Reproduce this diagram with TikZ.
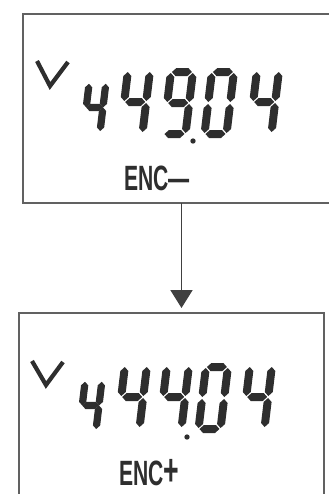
\documentclass[tikz,border=0pt]{standalone}
\usepackage{fontspec}
\newfontfamily\encfont{Liberation Sans}
\usetikzlibrary{arrows.meta}

\tikzset{
  lcd/.style={fill=black!82},
  lcdbox/.style={draw=black!62, line width=1.6pt, inner sep=0pt, outer sep=0pt},
  vmark/.style={draw=black!82, line width=3.6pt, line join=miter},
  enc/.style={inner sep=0pt, anchor=base west, xscale=0.6,
    font=\fontsize{30}{30}\selectfont\encfont\bfseries, text=black!82},
  smalldigit/.style={lcd/.append style={draw=black!82, line width=1pt}},
  flow/.style={draw=black!75, line width=1.6pt,
    -{Triangle[width=0.66cm,length=0.54cm]}, shorten >=0.15cm}
}

% segments of one digit, cell 30 x 70, bottom left at (0,0)
\newcommand{\hseg}[3]{\fill[lcd] (#1,#3) -- ({#1+4},{#3+4}) -- ({#2-4},{#3+4}) -- (#2,#3) -- ({#2-4},{#3-4}) -- ({#1+4},{#3-4}) -- cycle;}
\newcommand{\vseg}[3]{\fill[lcd] (#1,#2) -- ({#1+4},{#2+4}) -- ({#1+4},{#3-4}) -- (#1,#3) -- ({#1-4},{#3-4}) -- ({#1-4},{#2+4}) -- cycle;}
\newcommand{\sega}{\hseg{5}{25}{66}}
\newcommand{\segb}{\vseg{26}{36}{65}}
\newcommand{\segc}{\vseg{26}{5}{34}}
\newcommand{\segd}{\hseg{5}{25}{4}}
\newcommand{\sege}{\vseg{4}{5}{34}}
\newcommand{\segf}{\vseg{4}{36}{65}}
\newcommand{\segg}{\hseg{5}{25}{35}}

% #2,#3 bottom left (px), #4 size, #5 lit segments
\newcommand{\lcddigit}[5][]{%
  \begin{scope}[shift={(#2,-#3)}, x={(#4*0.03cm,0cm)}, y={(#4*0.0036cm,#4*0.03cm)}, #1]
    \foreach \s in {#5} {\csname seg\s\endcsname}
  \end{scope}}

\begin{document}
\begin{tikzpicture}[x=0.03cm, y=0.03cm]
  \useasboundingbox (0,0) rectangle (328,-494);

  \node[lcdbox, minimum width=317*0.03cm, minimum height=189*0.03cm] (upper) at (181.5,-108.5) {};
  \node[lcdbox, minimum width=305*0.03cm, minimum height=197*0.03cm] (lower) at (171.5,-411.5) {};

  % upper display: 4 49.04
  \draw[vmark] (37,-61) -- (50,-86) -- (68,-62);
  \lcddigit[smalldigit]{80}{134}{0.76}{b,c,f,g}
  \lcddigit{116}{137}{1}{b,c,f,g}
  \lcddigit{159}{138}{1}{a,b,c,d,f,g}
  \fill[lcd] (193,-141) circle (0.08cm);
  \lcddigit{200}{138}{1}{a,b,c,d,e,f}
  \lcddigit{245}{137}{1}{b,c,f,g}
  \node[enc] (enc1) at (124,-190) {ENC—};

  % lower display: 4 44.04
  \draw[vmark] (32,-361) -- (46,-385) -- (63,-362);
  \lcddigit[smalldigit]{76}{432}{0.76}{b,c,f,g}
  \lcddigit{113}{432}{1}{b,c,f,g}
  \lcddigit{155}{432}{1}{b,c,f,g}
  \fill[lcd] (187,-437) circle (0.08cm);
  \lcddigit{194}{433}{1}{a,b,c,d,e,f}
  \lcddigit{238}{432}{1}{b,c,f,g}
  \node[enc] (enc2) at (119,-485) {ENC{\fontsize{38}{30}\selectfont+}};

  \draw[flow] (upper.south) -- (upper.south |- lower.north);
\end{tikzpicture}
\end{document}
